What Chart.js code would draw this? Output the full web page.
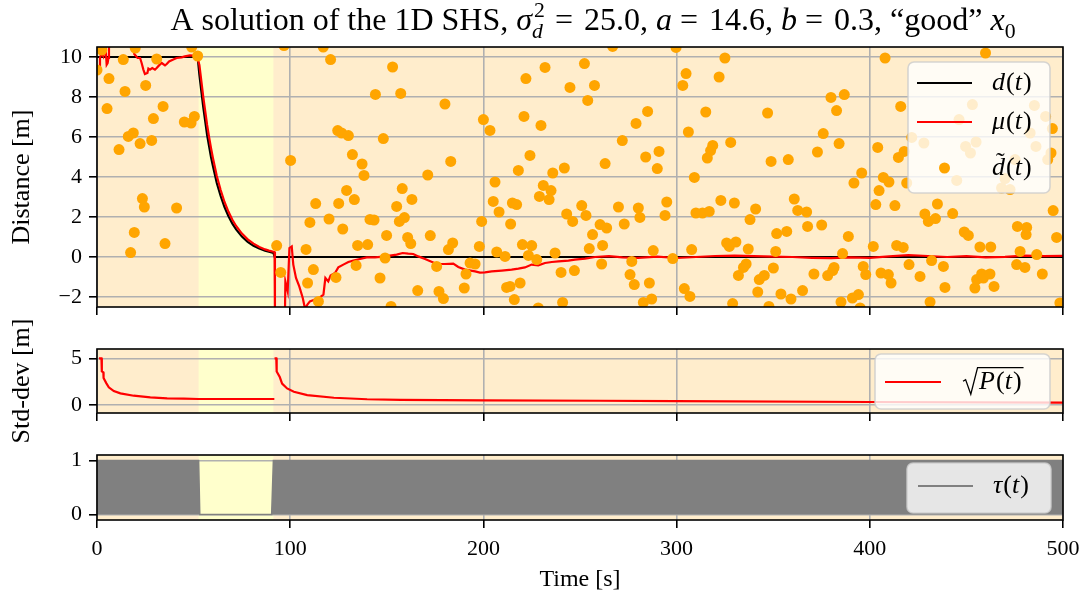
<!DOCTYPE html>
<html>
<head>
<meta charset="utf-8">
<script src="https://cdn.jsdelivr.net/npm/chart.js@4.4.0/dist/chart.umd.min.js"></script>
<style>
  html, body { margin: 0; padding: 0; background: #fff; }
  #wrap { position: relative; width: 1089px; height: 601px; overflow: hidden; }
  canvas { position: absolute; left: 0; }
</style>
</head>
<body>
<div id="wrap">
  <canvas id="distChart" width="1089" height="320" style="top:0px"></canvas>
  <canvas id="stdChart" width="1089" height="135" style="top:310px"></canvas>
  <canvas id="tauChart" width="1089" height="156" style="top:445px"></canvas>
</div>
<script>
// true distance d(t)
var distTime = [0, 52.1, 53, 54, 55, 56, 57, 58, 59, 60, 62, 64, 66, 68, 70, 72, 75, 78, 81, 84, 87, 89, 91.3, 92, 500];
var distTrue = [10, 10, 9.1, 8.3, 7.5, 6.8, 6.1, 5.55, 5.0, 4.55, 3.7, 3.05, 2.5, 2.05, 1.68, 1.38, 1.02, 0.76, 0.56, 0.42, 0.31, 0.26, 0.2, 0, 0];

// estimated mean mu(t)
var muTime = [0.7, 1.55, 1.55, 2.4, 3.3, 3.8, 4.5, 5.0, 5.5, 5.9, 6.2, 6.7, 9, 13, 17, 18.8, 19.3, 21, 22.3, 23.1,
  24, 24.8, 26.1, 26.6, 27.4, 28.6, 30, 30.9, 32.1, 33.5, 35.2, 36.1, 37.3, 39.5, 41.2, 43.8, 45.5, 48.1, 49.9, 51.8,
  53, 54, 55, 56, 57, 58, 59, 60, 62, 64, 66, 68, 70, 72, 75, 78, 81, 84, 87, 89, 91.9,
  92.1, 97.3, 97.5, 98.7, 99.6, 100.8, 101.3, 101.6, 103, 104.7, 106.5, 107.7, 108.9, 110.2, 112.8, 115.4, 117.2, 118.2, 119.7, 120.9,
  123.2, 124.9, 127.5, 130.1, 132.7, 136.1, 139.6, 143.9, 148.2, 152.5, 155.1, 158.2, 161.1, 163.7, 166.3, 169.8, 175.8, 180.1, 184.4, 187,
  190.5, 195.7, 198.2, 200.8, 204.3, 209.5, 214.6, 218.1, 221.5, 225, 228.4, 231.9, 235.4, 238.8, 244, 247.4, 252.6, 257.8,
  265, 272, 280, 290, 300, 310, 320, 330, 340, 350, 360, 370, 380, 390, 400, 410, 420, 430, 440, 450, 460, 470, 480, 490, 500];
var muDist = [9.25, 9.28, 9.95, 10.2, 10.03, 10.28, 10.37, 9.62, 9.7, 9.95, 10.45, 10.8, 11.0, 11.1, 11.0, 10.8, 10.15, 9.95, 9.95, 9.7,
  9.37, 9.15, 9.2, 9.42, 9.37, 9.45, 9.37, 9.45, 9.58, 9.7, 9.58, 9.65, 9.78, 9.87, 9.95, 9.98, 10.03, 10.08, 10.07, 10.02,
  9.6, 8.8, 8.0, 7.3, 6.6, 6.0, 5.45, 4.95, 4.05, 3.35, 2.75, 2.27, 1.87, 1.55, 1.17, 0.88, 0.67, 0.5, 0.38, 0.32, 0.25,
  -2.7, -2.7, -1.22, -1.72, 0.45, 0.53, -0.05, -0.38, -1.05, -1.47, -2.05, -2.6, -2.38, -2.22, -2.13, -2.02, -1.88, -1.05, -1.22, -0.92,
  -0.8, -0.52, -0.38, -0.25, -0.18, -0.1, -0.02, -0.02, 0.02, 0.08, 0.12, 0.2, 0.17, 0.15, 0.03, -0.1, -0.35, -0.35, -0.33, -0.5,
  -0.63, -0.72, -0.78, -0.77, -0.72, -0.68, -0.63, -0.58, -0.52, -0.38, -0.42, -0.3, -0.25, -0.22, -0.18, -0.13, -0.08, 0.0,
  0.04, -0.02, -0.04, 0.02, -0.05, 0.0, 0.05, 0.07, 0.04, 0.02, 0.0, -0.04, -0.06, -0.02, -0.04, 0.03, 0.09, 0.05, 0.0, 0.04, -0.02, 0.01, 0.07, 0.04, 0.06];

// noisy distance measurements
var measTime = [0, 2.5, 5.2, 6.2, 11.4, 13.6, 14.5, 16.2, 17.4, 18.8, 19.3, 19.8, 22.3, 23.5, 24.5, 25.2, 28.3, 29.2, 30.9, 34.2,
  35.2, 41.2, 45.2, 48.7, 49, 50.4, 52.1,
  93, 95.1, 96.8, 100.2, 108.2, 109, 110.2, 112, 113.2, 114.6, 117.1, 120.1, 120.9, 123.7, 124.6, 125.1, 126.6, 127.2, 129.2, 130.1,
  132.2, 133.2, 134.1, 134.9, 137.2, 138.2, 140.1, 141.3, 143.4, 144.1, 146.5, 148.2, 149.1, 149.9, 152.2, 153, 155.1, 156.5, 157.2, 158,
  159.1, 160.8, 162.4, 163, 166, 171.2, 172.5,
  175.8, 177, 179.3, 180.1, 181.9, 183.1, 184.1, 190.1, 191, 193.1, 195.7, 197.9, 199.1, 200, 203.4, 205.1, 206, 206.9, 208.1, 211.2,
  212, 213.8, 214.1, 215, 216, 217.2, 218.1, 219, 220.2, 221, 222, 223.3, 224.1, 225, 227.6, 228.4, 229, 229.8, 231, 231.9,
  234, 235, 235.9, 237.1, 240.2, 241, 241.9, 243.1, 244.8, 246.2, 247.1, 250.9, 252.3, 253.1, 254, 254.8, 256.5, 257.5, 260.4,
  261.2, 261.7, 263, 263.8, 266.9, 269.9, 271.9, 272.9, 275.9, 276.8, 278.1, 279, 280.2, 281, 282.8, 284, 285, 285.9, 287.1, 287.9,
  290, 290.9, 294, 294.9, 298, 299.7, 303.2, 304, 304.9, 306.1, 306.9, 307.8, 309.2, 310, 313.4, 315.1, 315.9, 316.9, 317.6, 318.7,
  322, 322.9, 325, 325.9, 327.3, 328, 329, 329.9, 330.7, 332, 334.6, 336, 337.1, 338, 340.9, 342, 342.8,
  345.4, 347.1, 347.8, 348.9, 350.1, 351.3, 351.8, 354, 357, 357.8, 359.2, 360.9, 362.7, 365.2, 367.3, 367.8, 371.1, 372.9, 375.1, 375.9,
  378.2, 379.9, 380.8, 381.5, 382.8, 384.1, 385.1, 385.9, 386.8, 388.9, 391, 391.8, 394.1, 395, 395.8, 396.6, 397.9, 401.8, 403.1, 404.1,
  404.8, 405.8, 407, 407.9, 409.6, 409.9, 411, 413, 413.9, 414.8, 416, 417.3, 417.8, 419.1, 420.3, 421.7, 426, 428, 428.5,
  430.3, 431.2, 432, 434, 435, 438.1, 438.9, 442.9, 445, 446.2, 448.9, 449.6, 451, 452.1, 453.1, 454.4, 455, 455.3, 457, 457.9,
  458.8, 459.9, 462.2, 462.6, 464.3, 468.2, 470, 472.6, 475.2, 476, 476.4, 477.8, 480.3, 480.9, 481.2, 483, 485.2, 486, 486.4, 489.3,
  491, 492.1, 493.8, 494.5, 494.9, 496.7, 498.4];
var measDist = [9.35, 10.35, 7.42, 8.92, 5.37, 9.87, 8.28, 6.03, 0.22, 6.2, 1.23, 10.45, 5.67, 2.92, 2.5, 8.58, 5.83, 6.92, 9.9, 7.53,
  0.67, 2.45, 6.75, 6.7, 10.5, 7.03, 10.05,
  0.57, -0.77, 10.57, 4.83, 0.38, -1.3, 1.73, -0.63, 2.67, -2.22, 10.5, 1.9, 9.87, -1.02, 6.32, 2.68, 6.2, 1.4, 3.33, 6.07,
  5.12, 2.87, -0.42, 0.58, 4.65, 4.08, 0.62, 1.88, 1.85, 8.13, -1.05, 5.92, -0.05, 1.08, -2.47, 9.5, 2.53, 1.78, 8.18, 3.42,
  1.97, 0.98, 0.67, 2.88, -1.68, 4.1, 1.07,
  -0.47, -1.72, -2.08, 7.65, 0.37, 4.78, 0.7, -1.55, -0.85, -0.3, -0.35, 0.53, 1.78, 6.87, 6.33, 2.78, 3.75, 0.25, 2.25, 0.03,
  -1.52, -1.47, 1.65, 2.7, -2.13, 2.62, 4.33, -1.3, 0.62, 7.03, 8.92, 0.08, 5.08, 0.57, -0.13, -2.55, 3.03, 6.58, 3.58, 9.48,
  2.87, 3.32, 4.2, 0.2, -0.77, -2.27, 4.45, 2.15, 8.48, 1.78, -0.68, 2.57, 9.67, 2.08, 7.83, 0.42, 1.12, 8.58, 1.62,
  -0.35, 0.58, 4.67, 1.45, 10.53, 2.5, 5.82, 1.65, -0.88, -0.22, -1.38, 6.68, 2.45, 1.98, -2.27, 5.0, 7.28, -1.3, -2.1, 0.32,
  4.42, 5.28, 2.08, 2.75, -0.08, 10.48, 8.58, -1.58, 9.17, 6.25, -1.97, 0.37, 3.98, 2.2, 2.2, 7.25, 4.95, 2.28, 5.32, 5.58,
  9.0, 2.83, 9.95, 0.7, 0.53, 5.73, -2.33, 2.7, 0.75, -0.92, -0.52, -0.35, 0.4, 1.87, 2.4, -1.75, -1.13,
  -0.92, 7.2, -2.47, 4.78, -0.55, 0.28, 1.17, -1.85, 1.28, 4.87, -2.1, 2.9, 2.33, -1.68, 2.25, 1.53, -0.85, 5.25, 1.6, 6.17,
  -0.93, 7.98, -0.68, -0.52, 7.32, 5.67, -2.25, 0.17, 8.12, 1.03, -2.05, 3.7, -1.88, -2.55, 4.2, -0.47, -0.88, 0.53, 2.62, 5.48,
  3.32, -0.8, 3.98, 9.95, -0.88, 3.75, -1.3, 2.57, 0.58, 4.98, 7.53, 0.48, 5.28, 3.7, -0.38, 5.98, -0.97, 5.7, 2.15,
  1.78, -2.25, -0.18, 1.92, 2.65, -0.47, -1.52, 2.17, 3.83, 6.87, 1.25, 5.53, 1.08, 5.2, 7.62, -1.55, 5.75, -1.13, 0.5, -0.85,
  -1.05, 10.2, -0.85, 0.5, -1.47, 3.45, 3.92, 3.37, 4.87, -0.38, 1.53, 0.28, -0.52, 1.12, 1.48, 6.2, 7.58, 5.53, 0.12, -0.85,
  7.03, 4.87, 5.2, 6.42, 2.32, 0.98, -2.3];

// filter standard deviation sqrt(P(t)); null marks the restart
var stdTime = [1.0, 2.3, 2.5, 3.3, 3.4, 4.8, 6.1, 8.7, 12.1, 19, 27.6, 36.3, 44.9, 52.6, 91.8, 91.85,
  91.9, 92.8, 93, 94.6, 95.8, 98.4, 101.9, 108.8, 122.6, 139.8, 157.1, 200, 260, 300, 400, 500];
var stdDev = [5.0, 5.0, 3.6, 3.5, 2.9, 2.35, 1.9, 1.5, 1.25, 1.0, 0.82, 0.72, 0.68, 0.65, 0.65, null,
  5.0, 5.0, 3.6, 3.0, 2.3, 1.78, 1.43, 1.07, 0.78, 0.62, 0.55, 0.5, 0.46, 0.42, 0.33, 0.27];

// sensor availability tau(t)
var tauTime = [0, 52.6, 53.2, 90.4, 91.3, 500];
var tauValue = [1, 1, 0, 0, 1, 1];

var SERIF = '"Liberation Serif", "Times New Roman", serif';
Chart.defaults.font.family = SERIF;
Chart.defaults.color = '#000';

function toPoints(xs, ys) {
  return xs.map(function (x, i) { return { x: x, y: ys[i] }; });
}

// periods where tau drops to 0 get a yellow background
var offBands = [];
var bandStart = null;
for (var i = 1; i < tauTime.length; i++) {
  if (tauValue[i] === 0 && tauValue[i - 1] === 1) bandStart = tauTime[i - 1];
  if (tauValue[i] === 1 && tauValue[i - 1] === 0) offBands.push([bandStart, tauTime[i]]);
}

var bandPlugin = {
  id: 'bands',
  beforeDraw: function (chart) {
    var ctx = chart.ctx, a = chart.chartArea, x = chart.scales.x;
    ctx.save();
    ctx.fillStyle = 'rgb(255,237,204)';
    ctx.fillRect(a.left, a.top, a.right - a.left, a.bottom - a.top);
    ctx.fillStyle = 'rgb(255,255,204)';
    offBands.forEach(function (b) {
      var x0 = x.getPixelForValue(b[0]), x1 = x.getPixelForValue(b[1]);
      ctx.fillRect(x0, a.top, x1 - x0, a.bottom - a.top);
    });
    ctx.restore();
  }
};

var framePlugin = {
  id: 'frame',
  afterDatasetsDraw: function (chart) {
    var ctx = chart.ctx, a = chart.chartArea;
    ctx.save();
    ctx.strokeStyle = '#000';
    ctx.lineWidth = 1.6;
    ctx.strokeRect(a.left, a.top, a.right - a.left, a.bottom - a.top);
    ctx.restore();
  }
};

// draws a run of roman / italic pieces, with optional stacked sup+sub
function drawMath(ctx, x, y, pieces, size, measureOnly) {
  var cx = x;
  pieces.forEach(function (p) {
    if (p.sup !== undefined) {
      var s = size * 0.68;
      ctx.font = s + 'px ' + SERIF;
      var w1 = ctx.measureText(p.sup).width;
      if (!measureOnly) ctx.fillText(p.sup, cx + 2, y - size * 0.42);
      ctx.font = 'italic ' + s + 'px ' + SERIF;
      var w2 = ctx.measureText(p.sub).width;
      if (!measureOnly) ctx.fillText(p.sub, cx, y + size * 0.24);
      cx += Math.max(w1 + 2, w2) + 2;
      return;
    }
    var sz = p.small ? size * 0.68 : size;
    ctx.font = (p.it ? 'italic ' : '') + sz + 'px ' + SERIF;
    if (!measureOnly) ctx.fillText(p.t, cx, y + (p.small ? size * 0.24 : 0));
    cx += ctx.measureText(p.t).width + (p.gap || 0);
  });
  return cx - x;
}

var titlePieces = [
  { t: 'A solution of the 1D SHS, ' },
  { t: '\u03C3', it: true },
  { sup: '2', sub: 'd' },
  { t: ' = ', gap: 3 },
  { t: '25.0, ' },
  { t: 'a', it: true },
  { t: ' = ', gap: 3 },
  { t: '14.6, ' },
  { t: 'b', it: true },
  { t: ' = ', gap: 3 },
  { t: '0.3, \u201Cgood\u201D ' },
  { t: 'x', it: true },
  { t: '0', small: true }
];

var titlePlugin = {
  id: 'mathTitle',
  afterDraw: function (chart) {
    var ctx = chart.ctx, a = chart.chartArea;
    var size = 32;
    ctx.save();
    ctx.fillStyle = '#000';
    ctx.textBaseline = 'alphabetic';
    var w = drawMath(ctx, 0, 0, titlePieces, size, true);
    drawMath(ctx, (a.left + a.right) / 2 + 13 - w / 2, 30, titlePieces, size, false);
    ctx.restore();
  }
};

function legendBox(ctx, x, y, w, h) {
  var r = 6;
  ctx.beginPath();
  ctx.moveTo(x + r, y);
  ctx.arcTo(x + w, y, x + w, y + h, r);
  ctx.arcTo(x + w, y + h, x, y + h, r);
  ctx.arcTo(x, y + h, x, y, r);
  ctx.arcTo(x, y, x + w, y, r);
  ctx.closePath();
  ctx.fillStyle = 'rgba(255,255,255,0.8)';
  ctx.fill();
  ctx.strokeStyle = 'rgba(204,204,204,0.8)';
  ctx.lineWidth = 1.6;
  ctx.stroke();
}

// legend drawn inside the upper right corner of each panel
function mathLegend(box, rows) {
  return {
    id: 'mathLegend',
    afterDraw: function (chart) {
      var ctx = chart.ctx, a = chart.chartArea;
      var bx = a.right - box.right - box.w, by = a.top + box.top;
      ctx.save();
      legendBox(ctx, bx, by, box.w, box.h);
      rows.forEach(function (r) {
        var ry = by + r.y;
        if (r.dot) {
          ctx.fillStyle = r.color;
          ctx.beginPath();
          ctx.arc(bx + (r.x0 + r.x1) / 2, ry, 5.5, 0, Math.PI * 2);
          ctx.fill();
        } else {
          ctx.strokeStyle = r.color;
          ctx.lineWidth = 2;
          ctx.beginPath();
          ctx.moveTo(bx + r.x0, ry);
          ctx.lineTo(bx + r.x1, ry);
          ctx.stroke();
        }
        ctx.fillStyle = '#000';
        ctx.textBaseline = 'alphabetic';
        r.draw(ctx, bx + r.tx, ry + 7);
      });
      ctx.restore();
    }
  };
}

var LEG = 26;
function simpleLabel(sym) {
  return function (ctx, x, y) {
    drawMath(ctx, x, y, [{ t: sym, it: true, gap: 1 }, { t: '(' }, { t: 't', it: true, gap: 1 }, { t: ')' }], LEG, false);
  };
}
function tildeLabel(ctx, x, y) {
  drawMath(ctx, x, y, [{ t: 'd', it: true, gap: 1 }, { t: '(' }, { t: 't', it: true, gap: 1 }, { t: ')' }], LEG, false);
  ctx.font = LEG + 'px ' + SERIF;
  ctx.fillText('\u02DC', x + 4, y - LEG * 0.2);
}
function sqrtLabel(ctx, x, y) {
  var s = LEG;
  var w = drawMath(ctx, x + 0.62 * s, y, [{ t: 'P', it: true, gap: 1 }, { t: '(' }, { t: 't', it: true, gap: 1 }, { t: ')' }], s, false);
  ctx.strokeStyle = '#000';
  ctx.lineWidth = 1.3;
  ctx.beginPath();
  ctx.moveTo(x, y - 0.3 * s);
  ctx.lineTo(x + 0.1 * s, y - 0.36 * s);
  ctx.lineTo(x + 0.3 * s, y + 0.2 * s);
  ctx.lineTo(x + 0.56 * s, y - 0.82 * s);
  ctx.lineTo(x + 0.62 * s + w + 2, y - 0.82 * s);
  ctx.stroke();
}

function gridOpts() {
  return { color: '#b0b0b0', lineWidth: 1.6, tickColor: '#000', tickLength: 8, tickWidth: 1.6 };
}
function minusTick(v) {
  return v < 0 ? '\u2212' + Math.abs(v) : String(v);
}
function yTitle(text) {
  return { display: true, text: text, font: { size: 26 }, padding: { top: 6.4, bottom: 0 } };
}
// fixed axis box so every panel shares the same plot rectangle
function fixWidth(s) { s.width = 97; s.paddingTop = 0; s.paddingBottom = 0; }
function fixHeight(h) {
  return function (s) { s.height = h; s.paddingLeft = 0; s.paddingRight = 0; };
}

// distance panel
new Chart(document.getElementById('distChart'), {
  type: 'scatter',
  data: {
    datasets: [
      { label: 'measured', data: toPoints(measTime, measDist), backgroundColor: '#ffa500', borderWidth: 0, pointRadius: 5.5, pointHoverRadius: 5.5, order: 0 },
      { label: 'mu', data: toPoints(muTime, muDist), showLine: true, borderColor: '#ff0000', borderWidth: 2.2, pointRadius: 0, pointHoverRadius: 0, order: 1 },
      { label: 'd', data: toPoints(distTime, distTrue), showLine: true, borderColor: '#000000', borderWidth: 2.2, pointRadius: 0, pointHoverRadius: 0, order: 2 }
    ]
  },
  options: {
    responsive: false, animation: false,
    layout: { padding: { left: 0, right: 26, top: 47, bottom: 0 } },
    plugins: { legend: { display: false }, tooltip: { enabled: false } },
    scales: {
      x: { type: 'linear', min: 0, max: 500, afterFit: fixHeight(13),
        ticks: { display: false, stepSize: 100 }, grid: gridOpts(), border: { display: false } },
      y: { min: -2.5, max: 10.5, afterFit: fixWidth,
        ticks: { stepSize: 2, includeBounds: false, font: { size: 22 }, padding: 7, callback: minusTick },
        title: yTitle('Distance [m]'), grid: gridOpts(), border: { display: false } }
    }
  },
  plugins: [bandPlugin, framePlugin, titlePlugin, mathLegend({ right: 13, top: 15, w: 142, h: 131 }, [
    { y: 21, x0: 9, x1: 64, tx: 84, color: '#000000', draw: simpleLabel('d') },
    { y: 60, x0: 9, x1: 64, tx: 84, color: '#ff0000', draw: simpleLabel('\u03BC') },
    { y: 106, x0: 9, x1: 64, tx: 84, color: '#ffa500', dot: true, draw: tildeLabel }
  ])]
});

// standard deviation panel
new Chart(document.getElementById('stdChart'), {
  type: 'scatter',
  data: {
    datasets: [
      { label: 'std', data: toPoints(stdTime, stdDev), showLine: true, borderColor: '#ff0000', borderWidth: 2.2, pointRadius: 0, pointHoverRadius: 0, spanGaps: false }
    ]
  },
  options: {
    responsive: false, animation: false,
    layout: { padding: { left: 0, right: 26, top: 39, bottom: 0 } },
    plugins: { legend: { display: false }, tooltip: { enabled: false } },
    scales: {
      x: { type: 'linear', min: 0, max: 500, afterFit: fixHeight(32),
        ticks: { display: false, stepSize: 100 }, grid: gridOpts(), border: { display: false } },
      y: { min: -0.85, max: 6.0, afterFit: fixWidth,
        ticks: { stepSize: 5, includeBounds: false, font: { size: 22 }, padding: 7 },
        title: yTitle('Std-dev [m]'), grid: gridOpts(), border: { display: false } }
    }
  },
  plugins: [bandPlugin, framePlugin, mathLegend({ right: 13, top: 5, w: 175, h: 55 }, [
    { y: 28, x0: 10, x1: 66, tx: 88, color: '#ff0000', draw: sqrtLabel }
  ])]
});

// sensor availability panel
new Chart(document.getElementById('tauChart'), {
  type: 'scatter',
  data: {
    datasets: [
      { label: 'tau', data: toPoints(tauTime, tauValue), showLine: true, fill: 'origin', backgroundColor: '#808080', borderColor: '#808080', borderWidth: 1.5, pointRadius: 0, pointHoverRadius: 0 }
    ]
  },
  options: {
    responsive: false, animation: false,
    layout: { padding: { left: 0, right: 26, top: 10, bottom: 0 } },
    plugins: { legend: { display: false }, tooltip: { enabled: false } },
    scales: {
      x: { type: 'linear', min: 0, max: 500, afterFit: fixHeight(81),
        ticks: { stepSize: 100, font: { size: 22 }, padding: 8, maxRotation: 0 }, grid: gridOpts(), border: { display: false },
        title: { display: true, text: 'Time [s]', font: { size: 24 }, padding: { top: 0, bottom: 6.6 } } },
      y: { min: -0.1, max: 1.1, afterFit: fixWidth,
        ticks: { stepSize: 1, includeBounds: false, font: { size: 22 }, padding: 7 },
        grid: gridOpts(), border: { display: false } }
    }
  },
  plugins: [bandPlugin, framePlugin, mathLegend({ right: 12, top: 8, w: 144, h: 50 }, [
    { y: 23, x0: 11, x1: 66, tx: 86, color: '#808080', draw: simpleLabel('\u03C4') }
  ])]
});
</script>
</body>
</html>
